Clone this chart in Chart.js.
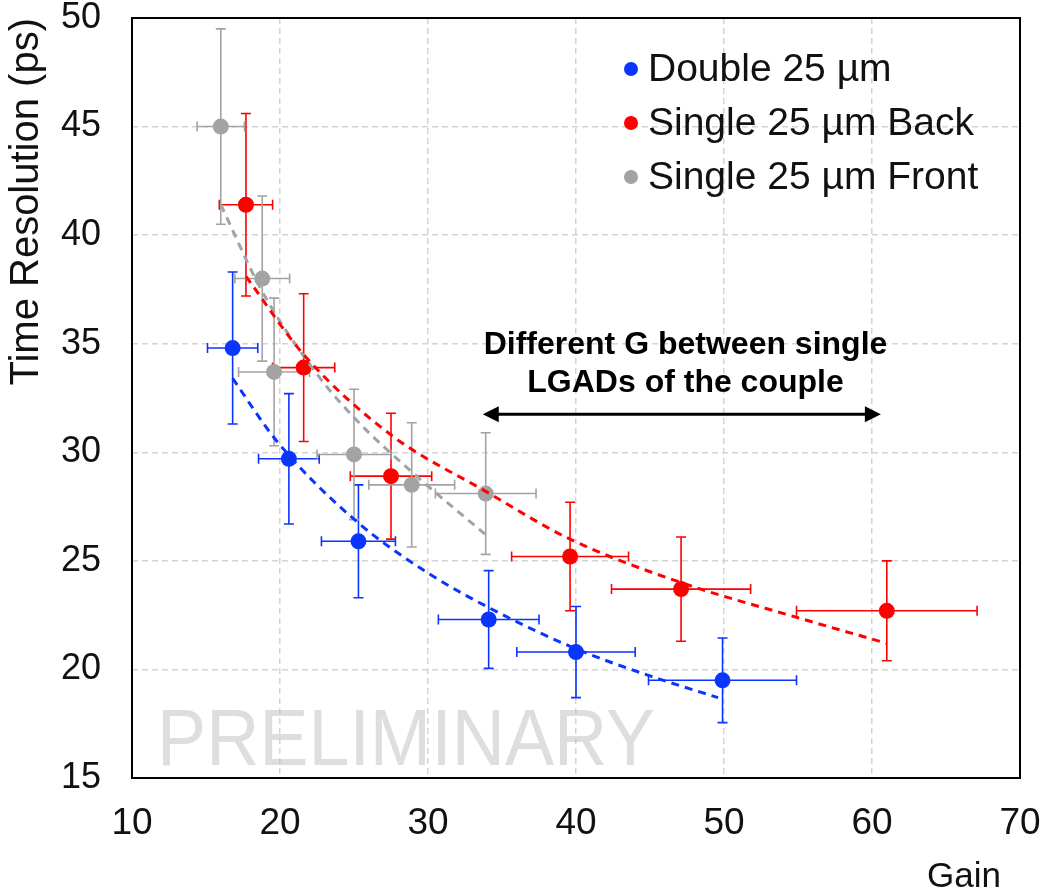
<!DOCTYPE html>
<html>
<head>
<meta charset="utf-8">
<script src="https://cdn.jsdelivr.net/npm/chart.js@4.4.1/dist/chart.umd.min.js"></script>
<style>
  html, body { margin: 0; padding: 0; background: #fff; }
  #wrap { width: 1051px; height: 895px; }
</style>
</head>
<body>
<div id="wrap"><canvas id="chart" width="1051" height="895"></canvas></div>
<script>
// measured points (gain, time resolution) with errors
const gainDouble = [16.8, 20.6, 25.3, 34.1, 40.0, 49.9];
const resDouble = [34.8, 29.7, 25.9, 22.3, 20.8, 19.5];
const gainErrDouble = [1.7, 2.05, 2.5, 3.4, 4.0, 5.0];
const resErrDouble = [3.5, 3.0, 2.6, 2.25, 2.1, 1.95];

const gainBack = [17.7, 21.6, 27.5, 39.6, 47.1, 61.0];
const resBack = [41.4, 33.9, 28.9, 25.2, 23.7, 22.7];
const gainErrBack = [1.8, 2.1, 2.75, 3.95, 4.7, 6.1];
const resErrBack = [4.2, 3.4, 2.9, 2.5, 2.4, 2.3];

const gainFront = [16.0, 18.8, 19.6, 25.0, 28.9, 33.9];
const resFront = [45.0, 38.0, 33.7, 29.9, 28.5, 28.1];
const gainErrFront = [1.6, 1.85, 2.4, 2.5, 2.9, 3.4];
const resErrFront = [4.5, 3.8, 3.4, 3.0, 2.86, 2.8];

// fit curves
const fitDoubleX = [16.8, 19.8, 25.2, 30.1, 34.1, 40.0, 45.0, 49.6];
const fitDoubleY = [33.4, 30.5, 26.8, 24.4, 22.85, 20.95, 19.7, 18.7];
const fitBackX = [17.7, 21.6, 27.5, 33.9, 39.6, 47.1, 54.9, 61.0];
const fitBackY = [38.1, 34.5, 30.8, 28.2, 26.0, 24.0, 22.4, 21.2];
const fitFrontX = [16.0, 18.8, 22.5, 25.0, 28.9, 33.9];
const fitFrontY = [41.4, 37.4, 33.6, 31.6, 29.1, 26.2];

const seriesLabels = ['Double 25 µm', 'Single 25 µm Back', 'Single 25 µm Front'];
const seriesColors = ['#0a35ff', '#ff0000', '#a3a3a3'];

const xTicks = [10, 20, 30, 40, 50, 60, 70];
const yTicks = [15, 20, 25, 30, 35, 40, 45, 50];

// annotation: text and double arrow
const noteLines = ['Different G between single', 'LGADs of the couple'];
const noteX = 47.4;
const noteY = [34.95, 33.2];
const arrowX = [33.7, 60.6];
const arrowY = 31.75;

const FONT = '"Liberation Sans", Arial, sans-serif';

function pts(xs, ys) {
  return xs.map((x, i) => ({ x: x, y: ys[i] }));
}

const pointSets = [
  { data: pts(gainDouble, resDouble), xe: gainErrDouble, ye: resErrDouble },
  { data: pts(gainBack, resBack), xe: gainErrBack, ye: resErrBack },
  { data: pts(gainFront, resFront), xe: gainErrFront, ye: resErrFront }
];

const errorBars = {
  id: 'errorBars',
  beforeDatasetsDraw(chart) {
    const { ctx, scales: { x, y } } = chart;
    ctx.save();
    // watermark
    ctx.fillStyle = 'rgba(190,190,190,0.5)';
    ctx.font = '80px ' + FONT;
    ctx.textBaseline = 'alphabetic';
    ctx.textAlign = 'left';
    ctx.fillText('PRELIMINARY', 157, 765, 498);

    ctx.lineWidth = 1.6;
    pointSets.forEach((s, k) => {
      ctx.strokeStyle = seriesColors[k];
      s.data.forEach((p, i) => {
        const px = x.getPixelForValue(p.x);
        const py = y.getPixelForValue(p.y);
        const x0 = x.getPixelForValue(p.x - s.xe[i]);
        const x1 = x.getPixelForValue(p.x + s.xe[i]);
        const y0 = y.getPixelForValue(p.y + s.ye[i]);
        const y1 = y.getPixelForValue(p.y - s.ye[i]);
        const c = 5;
        ctx.beginPath();
        ctx.moveTo(x0, py); ctx.lineTo(x1, py);
        ctx.moveTo(x0, py - c); ctx.lineTo(x0, py + c);
        ctx.moveTo(x1, py - c); ctx.lineTo(x1, py + c);
        ctx.moveTo(px, y0); ctx.lineTo(px, y1);
        ctx.moveTo(px - c, y0); ctx.lineTo(px + c, y0);
        ctx.moveTo(px - c, y1); ctx.lineTo(px + c, y1);
        ctx.stroke();
      });
    });
    ctx.restore();
  }
};

const extras = {
  id: 'extras',
  afterDraw(chart) {
    const { ctx, chartArea: a, scales: { x, y } } = chart;
    ctx.save();
    // frame
    ctx.strokeStyle = '#000';
    ctx.lineWidth = 2;
    ctx.strokeRect(a.left, a.top, a.right - a.left, a.bottom - a.top);

    // legend
    ctx.textBaseline = 'middle';
    ctx.textAlign = 'left';
    ctx.font = '39px ' + FONT;
    seriesLabels.forEach((lab, i) => {
      const cy = 69 + i * 54;
      ctx.fillStyle = seriesColors[i];
      ctx.beginPath();
      ctx.arc(631, cy, 7, 0, Math.PI * 2);
      ctx.fill();
      ctx.fillStyle = '#111';
      ctx.fillText(lab, 648, cy + 1);
    });

    // annotation text
    ctx.font = 'bold 32px ' + FONT;
    ctx.textAlign = 'center';
    ctx.fillStyle = '#000';
    noteLines.forEach((t, i) => {
      ctx.fillText(t, x.getPixelForValue(noteX), y.getPixelForValue(noteY[i]));
    });

    // double arrow
    const ax0 = x.getPixelForValue(arrowX[0]);
    const ax1 = x.getPixelForValue(arrowX[1]);
    const ay = y.getPixelForValue(arrowY);
    ctx.strokeStyle = '#000';
    ctx.lineWidth = 3;
    ctx.beginPath();
    ctx.moveTo(ax0 + 10, ay); ctx.lineTo(ax1 - 10, ay);
    ctx.stroke();
    ctx.beginPath();
    ctx.moveTo(ax0, ay); ctx.lineTo(ax0 + 16, ay - 8); ctx.lineTo(ax0 + 16, ay + 8); ctx.closePath();
    ctx.moveTo(ax1, ay); ctx.lineTo(ax1 - 16, ay - 8); ctx.lineTo(ax1 - 16, ay + 8); ctx.closePath();
    ctx.fill();

    // x title
    ctx.font = '35px ' + FONT;
    ctx.textAlign = 'right';
    ctx.fillStyle = '#111';
    ctx.fillText('Gain', 1001, 877);
    ctx.restore();
  }
};

function fitSet(xs, ys, k) {
  return {
    type: 'line',
    data: pts(xs, ys),
    showLine: true,
    borderColor: seriesColors[k],
    borderWidth: 3,
    borderDash: [8, 6],
    pointRadius: 0,
    cubicInterpolationMode: 'monotone',
    fill: false,
    order: 0
  };
}

const datasets = pointSets.map((s, k) => ({
  label: seriesLabels[k],
  data: s.data,
  backgroundColor: seriesColors[k],
  borderColor: seriesColors[k],
  pointRadius: 8,
  pointBorderWidth: 0,
  showLine: false,
  order: 1
}));
datasets.push(fitSet(fitDoubleX, fitDoubleY, 0));
datasets.push(fitSet(fitBackX, fitBackY, 1));
datasets.push(fitSet(fitFrontX, fitFrontY, 2));

new Chart(document.getElementById('chart'), {
  type: 'scatter',
  data: { datasets: datasets },
  options: {
    responsive: false,
    animation: false,
    layout: { padding: { top: 18, right: 31, left: 0, bottom: 0 } },
    plugins: { legend: { display: false }, tooltip: { enabled: false } },
    scales: {
      x: {
        type: 'linear',
        min: xTicks[0],
        max: xTicks[xTicks.length - 1],
        afterBuildTicks: (s) => { s.ticks = xTicks.map(v => ({ value: v })); },
        afterFit: (s) => { s.height = 117; s.paddingLeft = 0; s.paddingRight = 0; },
        ticks: { font: { family: FONT, size: 37 }, color: '#111', padding: 24 },
        grid: { color: '#d4d4d4', lineWidth: 1.5, drawTicks: false },
        border: { display: false, dash: [6, 4] }
      },
      y: {
        type: 'linear',
        min: yTicks[0],
        max: yTicks[yTicks.length - 1],
        afterBuildTicks: (s) => { s.ticks = yTicks.map(v => ({ value: v })); },
        afterFit: (s) => { s.width = 132; s.paddingTop = 0; s.paddingBottom = 0; },
        ticks: { font: { family: FONT, size: 36 }, color: '#111', padding: 31 },
        grid: { color: '#d4d4d4', lineWidth: 1.5, drawTicks: false },
        border: { display: false, dash: [6, 4] },
        title: {
          display: true,
          text: 'Time Resolution (ps)',
          align: 'end',
          font: { family: FONT, size: 40 },
          color: '#111',
          padding: { top: 3, bottom: 0 }
        }
      }
    }
  },
  plugins: [errorBars, extras]
});
</script>
</body>
</html>
